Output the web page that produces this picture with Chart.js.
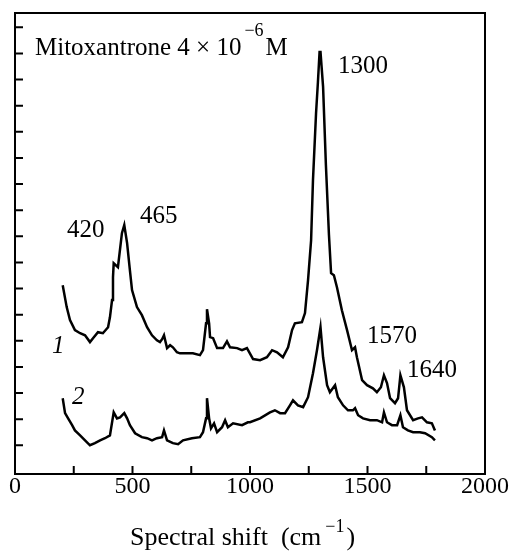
<!DOCTYPE html>
<html>
<head>
<meta charset="utf-8">
<script src="https://cdn.jsdelivr.net/npm/chart.js@4"></script>
<style>
  html, body { margin: 0; padding: 0; background: #fff; }
  #wrap { width: 513px; height: 552px; }
</style>
</head>
<body>
<div id="wrap"><canvas id="spectrum" width="513" height="552"></canvas></div>
<script>
// Raman spectrum 1 (upper trace)
const shift1 = [203, 220, 234, 255, 277, 298, 319, 332, 353, 374, 396, 404, 413, 417, 420, 438, 455, 465, 477, 489,
  498, 519, 540, 562, 583, 604, 617, 626, 634, 647, 660, 672, 689, 702, 757, 787, 800, 813, 817, 826,
  830, 843, 860, 885, 902, 915, 945, 966, 987, 1013, 1043, 1072, 1094, 1115, 1140, 1162, 1179, 1191, 1221, 1234,
  1247, 1260, 1268, 1281, 1289, 1296, 1300, 1311, 1323, 1336, 1345, 1357, 1370, 1391, 1413, 1434, 1447, 1455, 1477, 1498,
  1523, 1540, 1557, 1570, 1583, 1596, 1617, 1630, 1640, 1655, 1668, 1694, 1715, 1732, 1753, 1774, 1787];
const intensity1 = [7.13, 6.29, 5.79, 5.41, 5.29, 5.21, 4.95, 5.10, 5.33, 5.29, 5.52, 5.90, 6.56, 7.44, 7.97, 7.82, 9.12, 9.43, 8.74, 7.70,
  6.94, 6.29, 5.98, 5.52, 5.21, 5.02, 4.95, 5.06, 5.21, 4.72, 4.83, 4.75, 4.56, 4.52, 4.52, 4.45, 4.64, 5.67, 6.21, 5.67,
  5.14, 5.10, 4.72, 4.72, 4.98, 4.75, 4.72, 4.64, 4.72, 4.30, 4.26, 4.37, 4.64, 4.56, 4.37, 4.75, 5.41, 5.67, 5.71, 6.06,
  7.32, 8.85, 11.15, 13.7, 14.9, 16.06, 16.06, 14.72, 11.73, 9.05, 7.59, 7.51, 7.05, 6.17, 5.41, 4.64, 4.75, 4.37, 3.49, 3.30,
  3.18, 3.03, 3.22, 3.68, 3.38, 2.80, 2.61, 2.80, 3.68, 3.22, 2.34, 1.96, 2.03, 2.07, 1.88, 1.84, 1.57];

// Raman spectrum 2 (lower trace)
const shift2 = [203, 213, 226, 243, 255, 277, 298, 319, 340, 362, 383, 404, 420, 434, 447, 465, 477, 489, 511, 540,
  562, 583, 604, 626, 634, 647, 672, 694, 715, 753, 787, 800, 813, 817, 826, 834, 847, 860, 881, 894,
  906, 928, 966, 991, 1000, 1043, 1085, 1106, 1128, 1149, 1170, 1183, 1204, 1226, 1247, 1268, 1285, 1300, 1311, 1328,
  1340, 1362, 1374, 1396, 1417, 1438, 1447, 1460, 1481, 1511, 1540, 1562, 1570, 1583, 1604, 1626, 1640, 1651, 1672, 1694,
  1723, 1745, 1774, 1787];
const intensity2 = [2.80, 2.23, 2.03, 1.77, 1.57, 1.38, 1.19, 1.00, 1.08, 1.19, 1.27, 1.38, 2.26, 2.03, 2.07, 2.23, 2.03, 1.77, 1.46, 1.31,
  1.27, 1.19, 1.27, 1.31, 1.57, 1.19, 1.08, 1.04, 1.19, 1.27, 1.31, 1.50, 2.03, 2.80, 2.03, 1.65, 1.84, 1.50, 1.69, 1.96,
  1.69, 1.84, 1.77, 1.88, 1.88, 2.03, 2.26, 2.34, 2.23, 2.23, 2.53, 2.72, 2.53, 2.46, 2.84, 3.76, 4.64, 5.52, 4.37, 3.30,
  3.03, 3.30, 2.84, 2.53, 2.34, 2.34, 2.42, 2.15, 2.03, 1.96, 1.96, 1.88, 2.26, 1.88, 1.77, 1.77, 2.15, 1.69, 1.57, 1.50,
  1.50, 1.46, 1.31, 1.19];

const xTicks = [0, 500, 1000, 1500, 2000];
const peakLabels = ["420", "465", "1300", "1570", "1640"];

const serif = '"Liberation Serif", "Times New Roman", serif';

function toPoints(xs, ys) {
  return xs.map((x, i) => ({ x: x, y: ys[i] }));
}

// box, inward tick marks and text drawn on top of the chart
const framePlugin = {
  id: "frame",
  afterDraw(chart) {
    const ctx = chart.ctx;
    const area = chart.chartArea;
    const xs = chart.scales.x;
    const ys = chart.scales.y;
    ctx.save();
    ctx.strokeStyle = "#000";
    ctx.lineWidth = 2;
    ctx.strokeRect(area.left, area.top, area.right - area.left, area.bottom - area.top);

    ctx.beginPath();
    for (let v = 0; v <= 2000; v += 250) {
      const px = xs.getPixelForValue(v);
      ctx.moveTo(px, area.bottom);
      ctx.lineTo(px, area.bottom - 8);
    }
    for (let v = 1; v <= 17; v++) {
      const py = ys.getPixelForValue(v);
      ctx.moveTo(area.left, py);
      ctx.lineTo(area.left + 8, py);
    }
    ctx.stroke();

    ctx.fillStyle = "#000";
    ctx.textBaseline = "alphabetic";
    ctx.textAlign = "left";
    ctx.font = "25px " + serif;
    ctx.fillText(peakLabels[0], 67, 237);
    ctx.fillText(peakLabels[1], 140, 223);
    ctx.fillText(peakLabels[2], 338, 73);
    ctx.fillText(peakLabels[3], 367, 343);
    ctx.fillText(peakLabels[4], 407, 377);

    ctx.font = "italic 25px " + serif;
    ctx.fillText("1", 52, 353);
    ctx.fillText("2", 72, 404);

    // sample caption with exponent
    ctx.font = "25px " + serif;
    const cap = "Mitoxantrone 4 \u00d7 10";
    ctx.fillText(cap, 35, 55);
    let cx = 35 + ctx.measureText(cap).width + 3;
    ctx.font = "18px " + serif;
    ctx.fillText("\u22126", cx, 36);
    cx += ctx.measureText("\u22126").width + 2;
    ctx.font = "25px " + serif;
    ctx.fillText("M", cx, 55);

    // axis title
    ctx.font = "26px " + serif;
    const t1 = "Spectral shift  (cm";
    ctx.fillText(t1, 130, 545);
    let tx = 130 + ctx.measureText(t1).width + 4;
    ctx.font = "18px " + serif;
    ctx.fillText("\u22121", tx, 532);
    tx += ctx.measureText("\u22121").width + 2;
    ctx.font = "26px " + serif;
    ctx.fillText(")", tx, 545);
    ctx.restore();
  }
};

new Chart(document.getElementById("spectrum"), {
  type: "line",
  data: {
    datasets: [
      {
        data: toPoints(shift1, intensity1),
        borderColor: "#000",
        borderWidth: 2.5,
        pointRadius: 0,
        tension: 0,
      },
      {
        data: toPoints(shift2, intensity2),
        borderColor: "#000",
        borderWidth: 2.5,
        pointRadius: 0,
        tension: 0,
      },
    ],
  },
  options: {
    responsive: false,
    animation: false,
    devicePixelRatio: 1,
    layout: { padding: { left: 15, right: 28, top: 13, bottom: 0 } },
    plugins: {
      legend: { display: false },
      tooltip: { enabled: false },
    },
    scales: {
      x: {
        type: "linear",
        min: 0,
        max: 2000,
        grid: { display: false, drawTicks: false },
        border: { display: false },
        afterBuildTicks(scale) {
          scale.ticks = xTicks.map((v) => ({ value: v }));
        },
        afterFit(scale) {
          scale.height = 78;
        },
        ticks: {
          color: "#000",
          padding: -2,
          maxRotation: 0,
          font: { family: serif, size: 24 },
          callback: (v) => String(v),
        },
      },
      y: {
        display: false,
        min: -0.1,
        max: 17.55,
      },
    },
  },
  plugins: [framePlugin],
});
</script>
</body>
</html>
